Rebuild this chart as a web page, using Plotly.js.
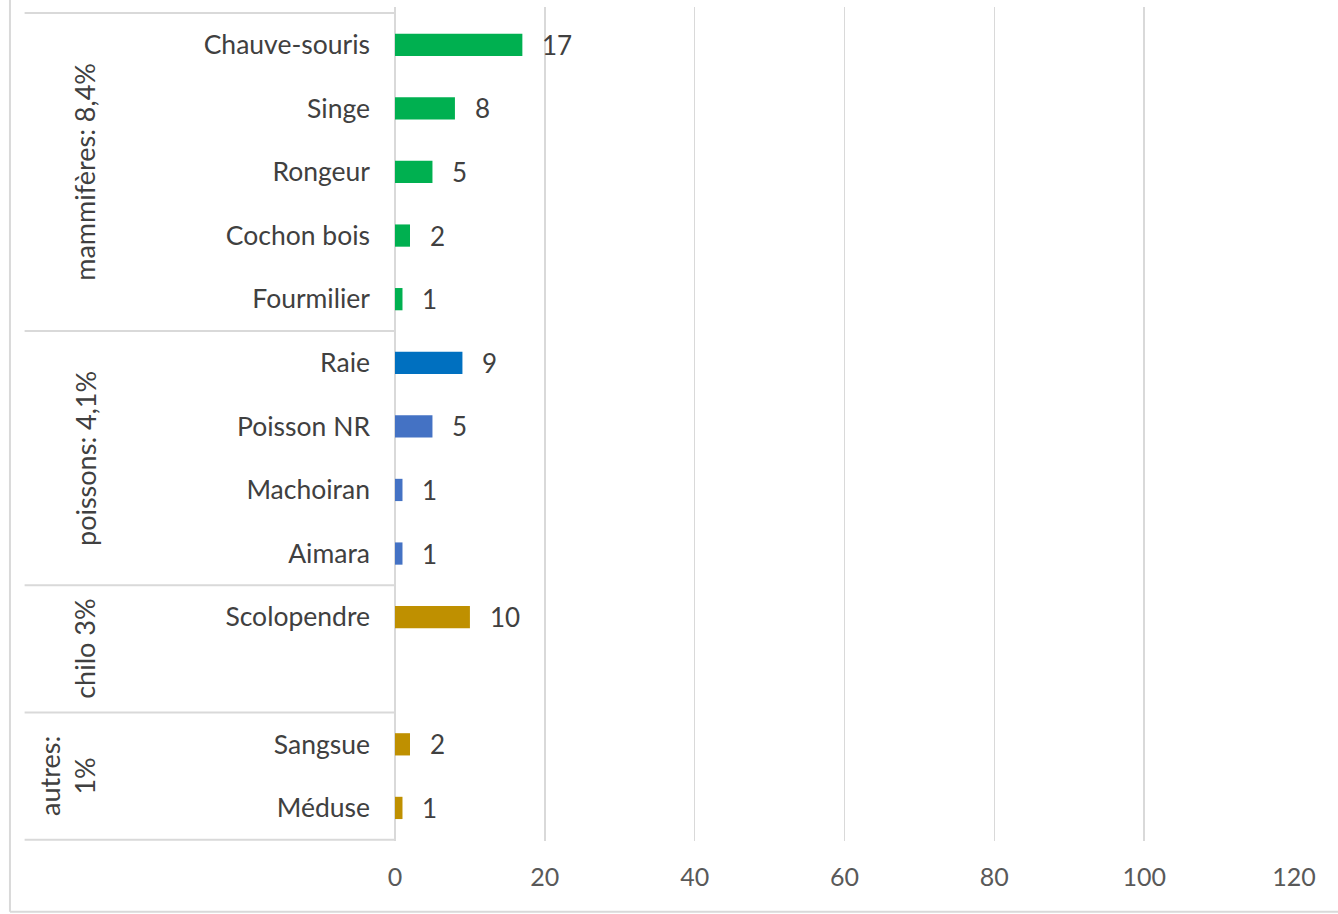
<!DOCTYPE html>
<html>
<head>
<meta charset="utf-8">
<script src="https://cdn.plot.ly/plotly-3.0.1.min.js"></script>
<style>
  html, body { margin: 0; padding: 0; background: #ffffff; }
  #chart { width: 1338px; height: 914px; }
</style>
</head>
<body>
<div id="chart"></div>
<script>
// Groups of species, in display order
const groupNames = ['mammifères: 8,4%', 'poissons: 4,1%', 'chilo 3%', 'autres:<br>1%'];
const groupSpecies = [
  ['Chauve-souris', 'Singe', 'Rongeur', 'Cochon bois', 'Fourmilier'],
  ['Raie', 'Poisson NR', 'Machoiran', 'Aimara'],
  ['Scolopendre', ' '],
  ['Sangsue', 'Méduse']
];
const groupCounts = [
  [17, 8, 5, 2, 1],
  [9, 5, 1, 1],
  [10, null],
  [2, 1]
];
const groupColors = [
  ['#00b050', '#00b050', '#00b050', '#00b050', '#00b050'],
  ['#0070c0', '#4472c4', '#4472c4', '#4472c4'],
  ['#bf9000', '#bf9000'],
  ['#bf9000', '#bf9000']
];
const xTicks = [0, 20, 40, 60, 80, 100, 120];

const categories = groupSpecies.flat();
const counts = groupCounts.flat();
const colors = groupColors.flat();

const FONT = 'Lato, "Open Sans", sans-serif';

const trace = {
  type: 'bar',
  orientation: 'h',
  y: categories,
  x: counts,
  marker: { color: colors, line: { width: 0 } },
  width: 0.35,
  hoverinfo: 'x+y'
};

// value labels to the right of each bar
const annotations = [];
categories.forEach((c, i) => {
  if (counts[i] === null) return;
  annotations.push({
    x: counts[i], y: c, xref: 'x', yref: 'y',
    text: String(counts[i]), showarrow: false,
    xanchor: 'left', yanchor: 'middle', xshift: 18, yshift: 0,
    font: { family: FONT, size: 26, color: '#404040' }
  });
});

// rotated group names and separator lines on the label column
const shapes = [];
const labelX = -0.345;
const lineX0 = -0.412;
let start = 0;
shapes.push({ type: 'line', xref: 'paper', yref: 'y', x0: lineX0, x1: 0, y0: -0.5, y1: -0.5,
  line: { color: '#d9d9d9', width: 2 } });
groupSpecies.forEach((g, k) => {
  const end = start + g.length - 1;
  annotations.push({
    x: labelX + (k === 3 ? -0.02 : 0), y: (start + end) / 2, xref: 'paper', yref: 'y',
    text: groupNames[k], showarrow: false, textangle: -90,
    xanchor: 'center', yanchor: 'middle', align: 'center',
    font: { family: FONT, size: 27, color: '#404040' }
  });
  shapes.push({ type: 'line', xref: 'paper', yref: 'y', x0: lineX0, x1: 0,
    y0: end + 0.5, y1: end + 0.5, line: { color: '#d9d9d9', width: 2 } });
  start = end + 1;
});

// outer frame on the left and bottom
shapes.push({ type: 'line', xref: 'paper', yref: 'paper', x0: -0.4283, x1: -0.4283, y0: -0.0848, y1: 1.01,
  line: { color: '#d9d9d9', width: 2 } });
shapes.push({ type: 'line', xref: 'paper', yref: 'paper', x0: -0.4283, x1: 1.05, y0: -0.0848, y1: -0.0848,
  line: { color: '#d9d9d9', width: 2 } });

const layout = {
  width: 1338, height: 914,
  margin: { l: 395, r: 44, t: 7, b: 73 },
  paper_bgcolor: '#ffffff', plot_bgcolor: '#ffffff',
  showlegend: false,
  font: { family: FONT, color: '#404040' },
  xaxis: {
    range: [0, 120], tickvals: xTicks, ticktext: xTicks.map(String),
    showgrid: true, gridcolor: '#d9d9d9', gridwidth: 1.5,
    zeroline: true, zerolinecolor: '#d9d9d9', zerolinewidth: 2,
    showline: false, ticks: '',
    tickfont: { family: FONT, size: 25, color: '#595959' },
    ticklabelstandoff: 19, fixedrange: true
  },
  yaxis: {
    type: 'category', categoryorder: 'array', categoryarray: categories,
    range: [12.52, -0.594],
    showgrid: false, zeroline: false, showline: false, ticks: '',
    tickfont: { family: FONT, size: 26.5, color: '#404040' },
    ticklabelstandoff: 24, fixedrange: true
  },
  shapes: shapes,
  annotations: annotations
};

Plotly.newPlot('chart', [trace], layout, { displayModeBar: false, staticPlot: true });
</script>
</body>
</html>
